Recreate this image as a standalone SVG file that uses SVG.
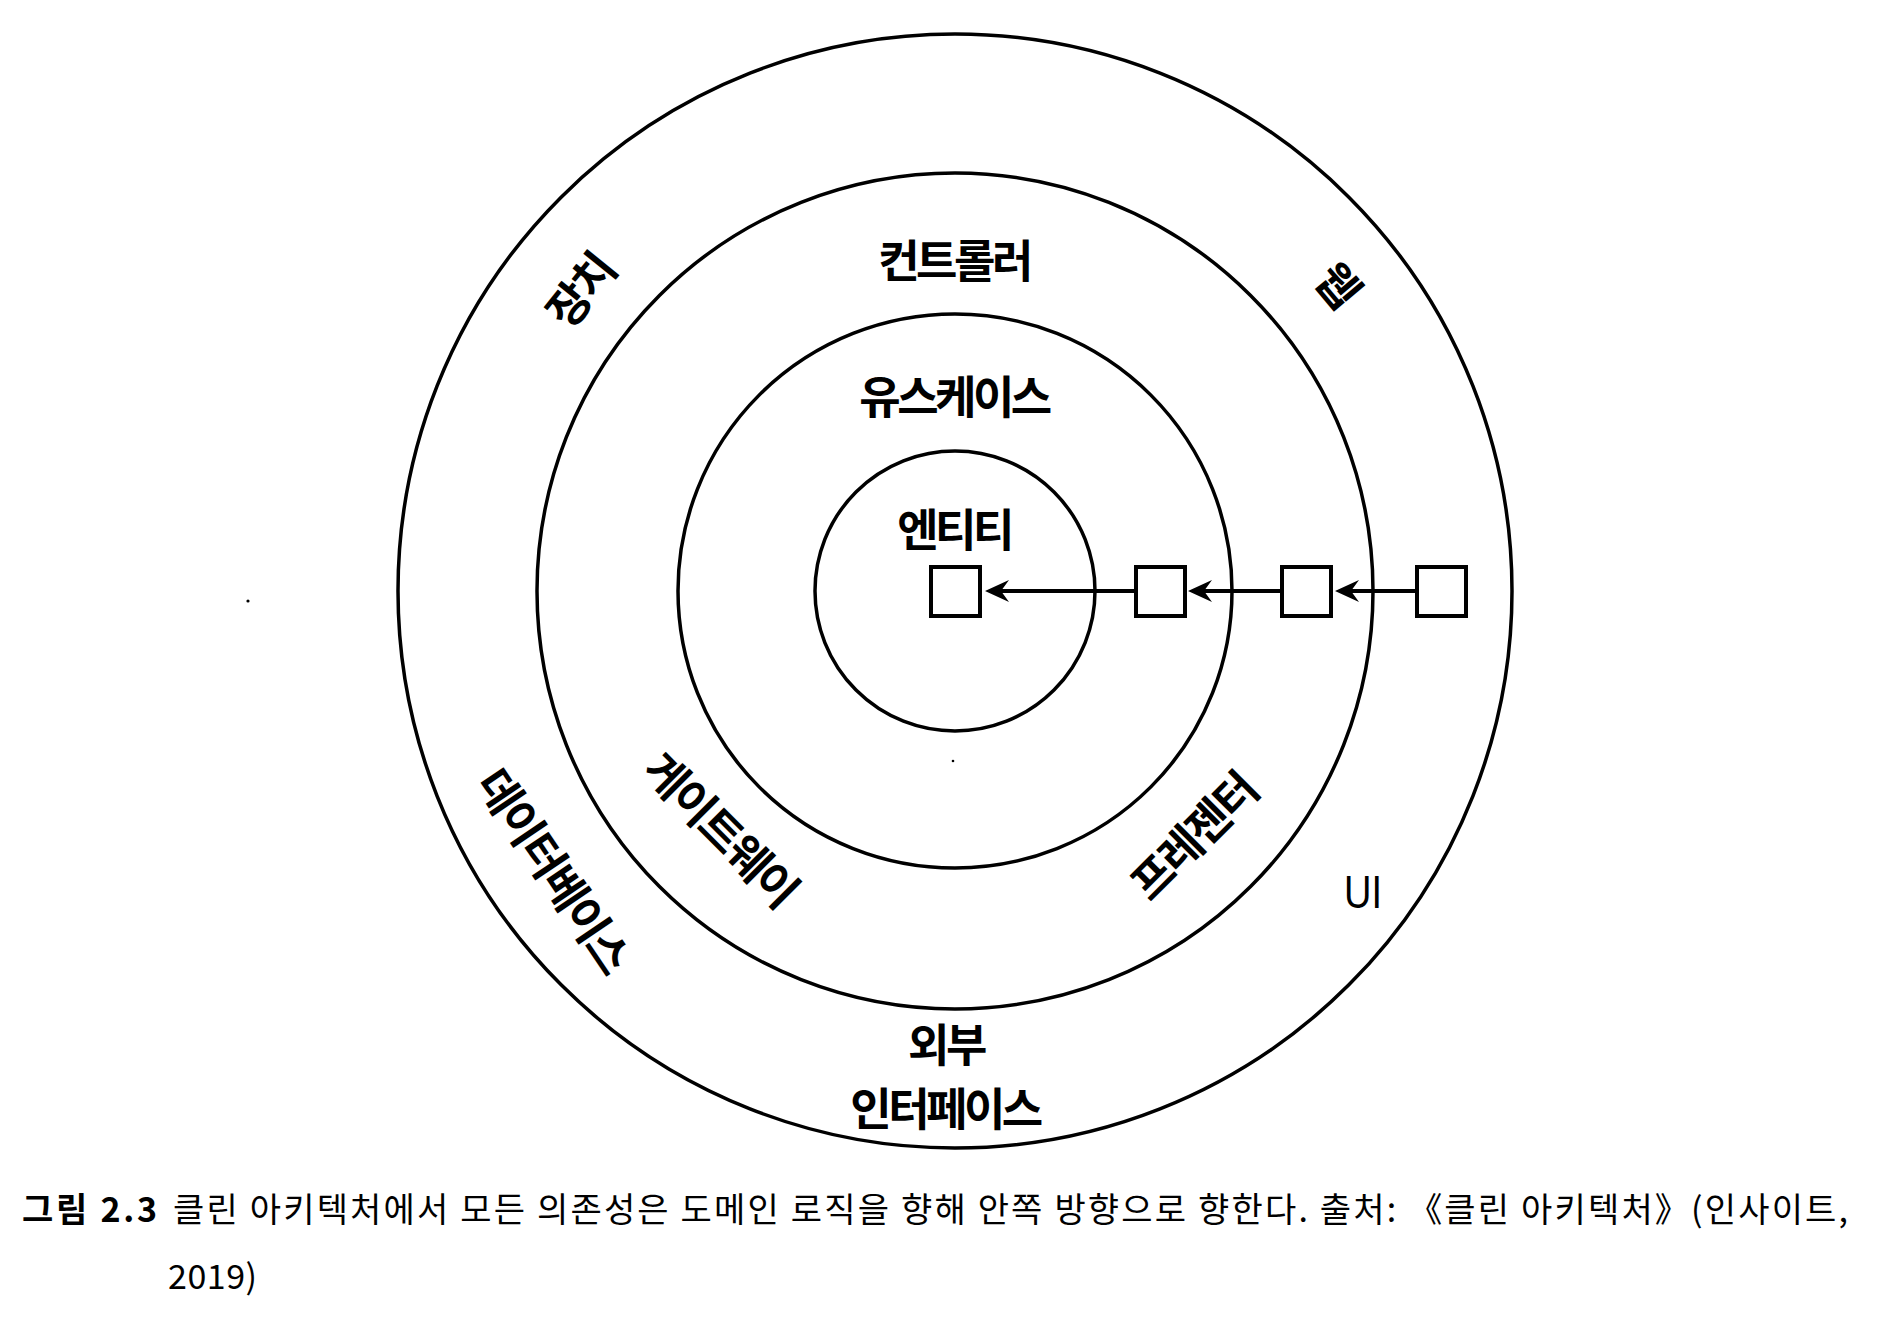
<svg xmlns="http://www.w3.org/2000/svg" width="1894" height="1320" viewBox="0 0 1894 1320">
  <style>
    .ring { fill: none; stroke: #000; stroke-width: 3.5; }
    .box { fill: #fff; stroke: #000; stroke-width: 4; }
    .conn { fill: none; stroke: #000; stroke-width: 3.8; marker-end: url(#arrow); }
    .lbl { font-family: "Noto Sans CJK KR", "Noto Sans", sans-serif; font-weight: bold; font-size: 45px; fill: #000; text-anchor: middle; }
    .hl { letter-spacing: -3.5px; }
    .rl { letter-spacing: -2.5px; }
    .ui { font-family: "Liberation Sans", Arial, sans-serif; font-size: 46px; fill: #000; }
    .cap { font-family: "Noto Sans CJK KR", "Noto Sans", sans-serif; font-size: 34px; fill: #000; }
    .capb { font-weight: bold; }
  </style>
  <defs>
    <marker id="arrow" markerUnits="userSpaceOnUse" viewBox="-26 -13 28 26" refX="-14" refY="0" markerWidth="28" markerHeight="26" orient="auto">
      <path d="M0,0 L-24,-11 L-16,0 L-24,11 Z" fill="#000"/>
    </marker>
  </defs>
  <rect width="1894" height="1320" fill="#fff"/>

  <g id="rings">
    <circle id="ring-outer" class="ring" cx="955" cy="591" r="557"/>
    <circle id="ring-adapters" class="ring" cx="955" cy="591" r="418"/>
    <circle id="ring-usecases" class="ring" cx="955" cy="591" r="277"/>
    <circle id="ring-entities" class="ring" cx="955" cy="591" r="140"/>
  </g>

  <g id="labels">
    <text class="lbl hl" x="954" y="278">컨트롤러</text>
    <text class="lbl hl" x="954" y="414">유스케이스</text>
    <text class="lbl hl" x="954" y="547">엔티티</text>
    <text class="lbl hl" x="946" y="1062">외부</text>
    <text class="lbl hl" x="945" y="1126">인터페이스</text>
    <text class="lbl rl" transform="translate(581,291) rotate(-51)" x="0" y="16">장치</text>
    <text class="lbl rl" transform="translate(1337,285) rotate(50)" x="0" y="16">웹</text>
    <text class="lbl rl" transform="translate(553,871) rotate(56)" x="0" y="16">데이터베이스</text>
    <text class="lbl rl" transform="translate(720,830) rotate(45)" x="0" y="16">게이트웨이</text>
    <text class="lbl rl" transform="translate(1194,837) rotate(-45)" x="0" y="16">프레젠터</text>
    <text class="ui" x="1344" y="908" textLength="38" lengthAdjust="spacingAndGlyphs">UI</text>
  </g>

  <g id="connectors">
    <line class="conn" x1="1136" y1="591" x2="999" y2="591"/>
    <line class="conn" x1="1282" y1="591" x2="1202" y2="591"/>
    <line class="conn" x1="1417" y1="591" x2="1349" y2="591"/>
  </g>

  <g id="node-entity"><rect class="box" x="931" y="567" width="49" height="49"/></g>
  <g id="node-usecase"><rect class="box" x="1136" y="567" width="49" height="49"/></g>
  <g id="node-adapter"><rect class="box" x="1282" y="567" width="49" height="49"/></g>
  <g id="node-framework"><rect class="box" x="1417" y="567" width="49" height="49"/></g>

  <g id="specks">
    <circle cx="248" cy="601" r="1.6" fill="#000"/>
    <circle cx="953" cy="761" r="1.3" fill="#000"/>
  </g>

  <g id="caption">
    <text class="cap capb" x="22" y="1222" textLength="135" lengthAdjust="spacing">그림 2.3</text>
    <text class="cap" x="173" y="1222" textLength="1675" lengthAdjust="spacing">클린 아키텍처에서 모든 의존성은 도메인 로직을 향해 안쪽 방향으로 향한다. 출처: 《클린 아키텍처》(인사이트,</text>
    <text class="cap" x="168" y="1289" textLength="89" lengthAdjust="spacing">2019)</text>
  </g>
</svg>
